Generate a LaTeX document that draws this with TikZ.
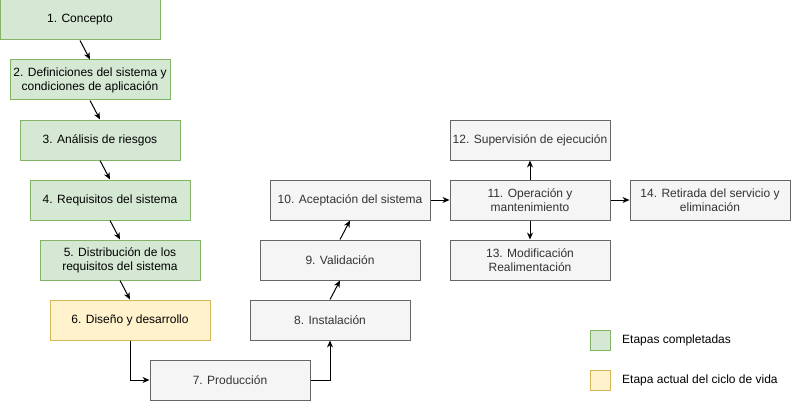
\documentclass[tikz,border=0pt]{standalone}
\usepackage{fontspec}
\setmainfont{Liberation Sans}
\usepackage{xcolor}
\usepackage{tikz}
\usetikzlibrary{arrows.meta, positioning}

\definecolor{greenfill}{HTML}{D5E8D4}
\definecolor{greenline}{HTML}{82B366}
\definecolor{yellowfill}{HTML}{FFF2CC}
\definecolor{yellowline}{HTML}{D6B656}
\definecolor{grayfill}{HTML}{F5F5F5}
\definecolor{grayline}{HTML}{666666}
\definecolor{graytext}{HTML}{333333}

\tikzset{
  stage/.style={draw, line width=1pt, minimum width=160pt, minimum height=40pt,
    inner sep=0pt, align=center, font=\fontsize{12}{14}\selectfont},
  done/.style={stage, fill=greenfill, draw=greenline},
  current/.style={stage, fill=yellowfill, draw=yellowline},
  todo/.style={stage, fill=grayfill, draw=grayline, text=graytext},
  keybox/.style={draw, line width=1pt, minimum size=20pt, inner sep=0pt},
  flow/.style={-{Stealth[length=7pt,width=6pt]}, line width=1pt}
}

\begin{document}
\begin{tikzpicture}[x=1pt, y=-1pt]
  \useasboundingbox (0,0) rectangle (791,401);
  \node[done] (E1) at (80,20) {1. Concepto};
  \node[done] (E2) at (90,80) {2. Definiciones del sistema y\\condiciones de aplicación};
  \node[done] (E3) at (100,140) {3. Análisis de riesgos};
  \node[done] (E4) at (110,200) {4. Requisitos del sistema};
  \node[done] (E5) at (120,260) {5. Distribución de los\\requisitos del sistema};
  \node[current] (E6) at (130,320) {6. Diseño y desarrollo};
  \node[todo] (E7) at (230,380) {7. Producción};
  \node[todo] (E8) at (330,320) {8. Instalación};
  \node[todo] (E9) at (340,260) {9. Validación};
  \node[todo] (E10) at (350,200) {10. Aceptación del sistema};
  \node[todo] (E11) at (530,200) {11. Operación y\\mantenimiento};
  \node[todo] (E12) at (530,140) {12. Supervisión de ejecución};
  \node[todo] (E13) at (530,260) {13. Modificación\\Realimentación};
  \node[todo] (E14) at (710,200) {14. Retirada del servicio y\\eliminación};
  \draw[flow] (E1.south) -- (E2.north);
  \draw[flow] (E2.south) -- (E3.north);
  \draw[flow] (E3.south) -- (E4.north);
  \draw[flow] (E4.south) -- (E5.north);
  \draw[flow] (E5.south) -- (E6.north);
  \draw[flow] (E6.south) |- (E7.west);
  \draw[flow] (E7.east) -| (E8.south);
  \draw[flow] (E8.north) -- (E9.south);
  \draw[flow] (E9.north) -- (E10.south);
  \draw[flow] (E10.east) -- (E11.west);
  \draw[flow] (E11.north) -- (E12.south);
  \draw[flow] (E11.south) -- (E13.north);
  \draw[flow] (E11.east) -- (E14.west);
  % leyenda
  \node[keybox, fill=greenfill, draw=greenline] (L1) at (600,340) {};
  \node[keybox, fill=yellowfill, draw=yellowline] (L2) at (600,380) {};
  \node[anchor=west, inner sep=0pt, font=\fontsize{12}{14}\selectfont] (T1) at (622,340) {Etapas completadas};
  \node[anchor=west, inner sep=0pt, font=\fontsize{12}{14}\selectfont] (T2) at (622,380) {Etapa actual del ciclo de vida};
\end{tikzpicture}
\end{document}
